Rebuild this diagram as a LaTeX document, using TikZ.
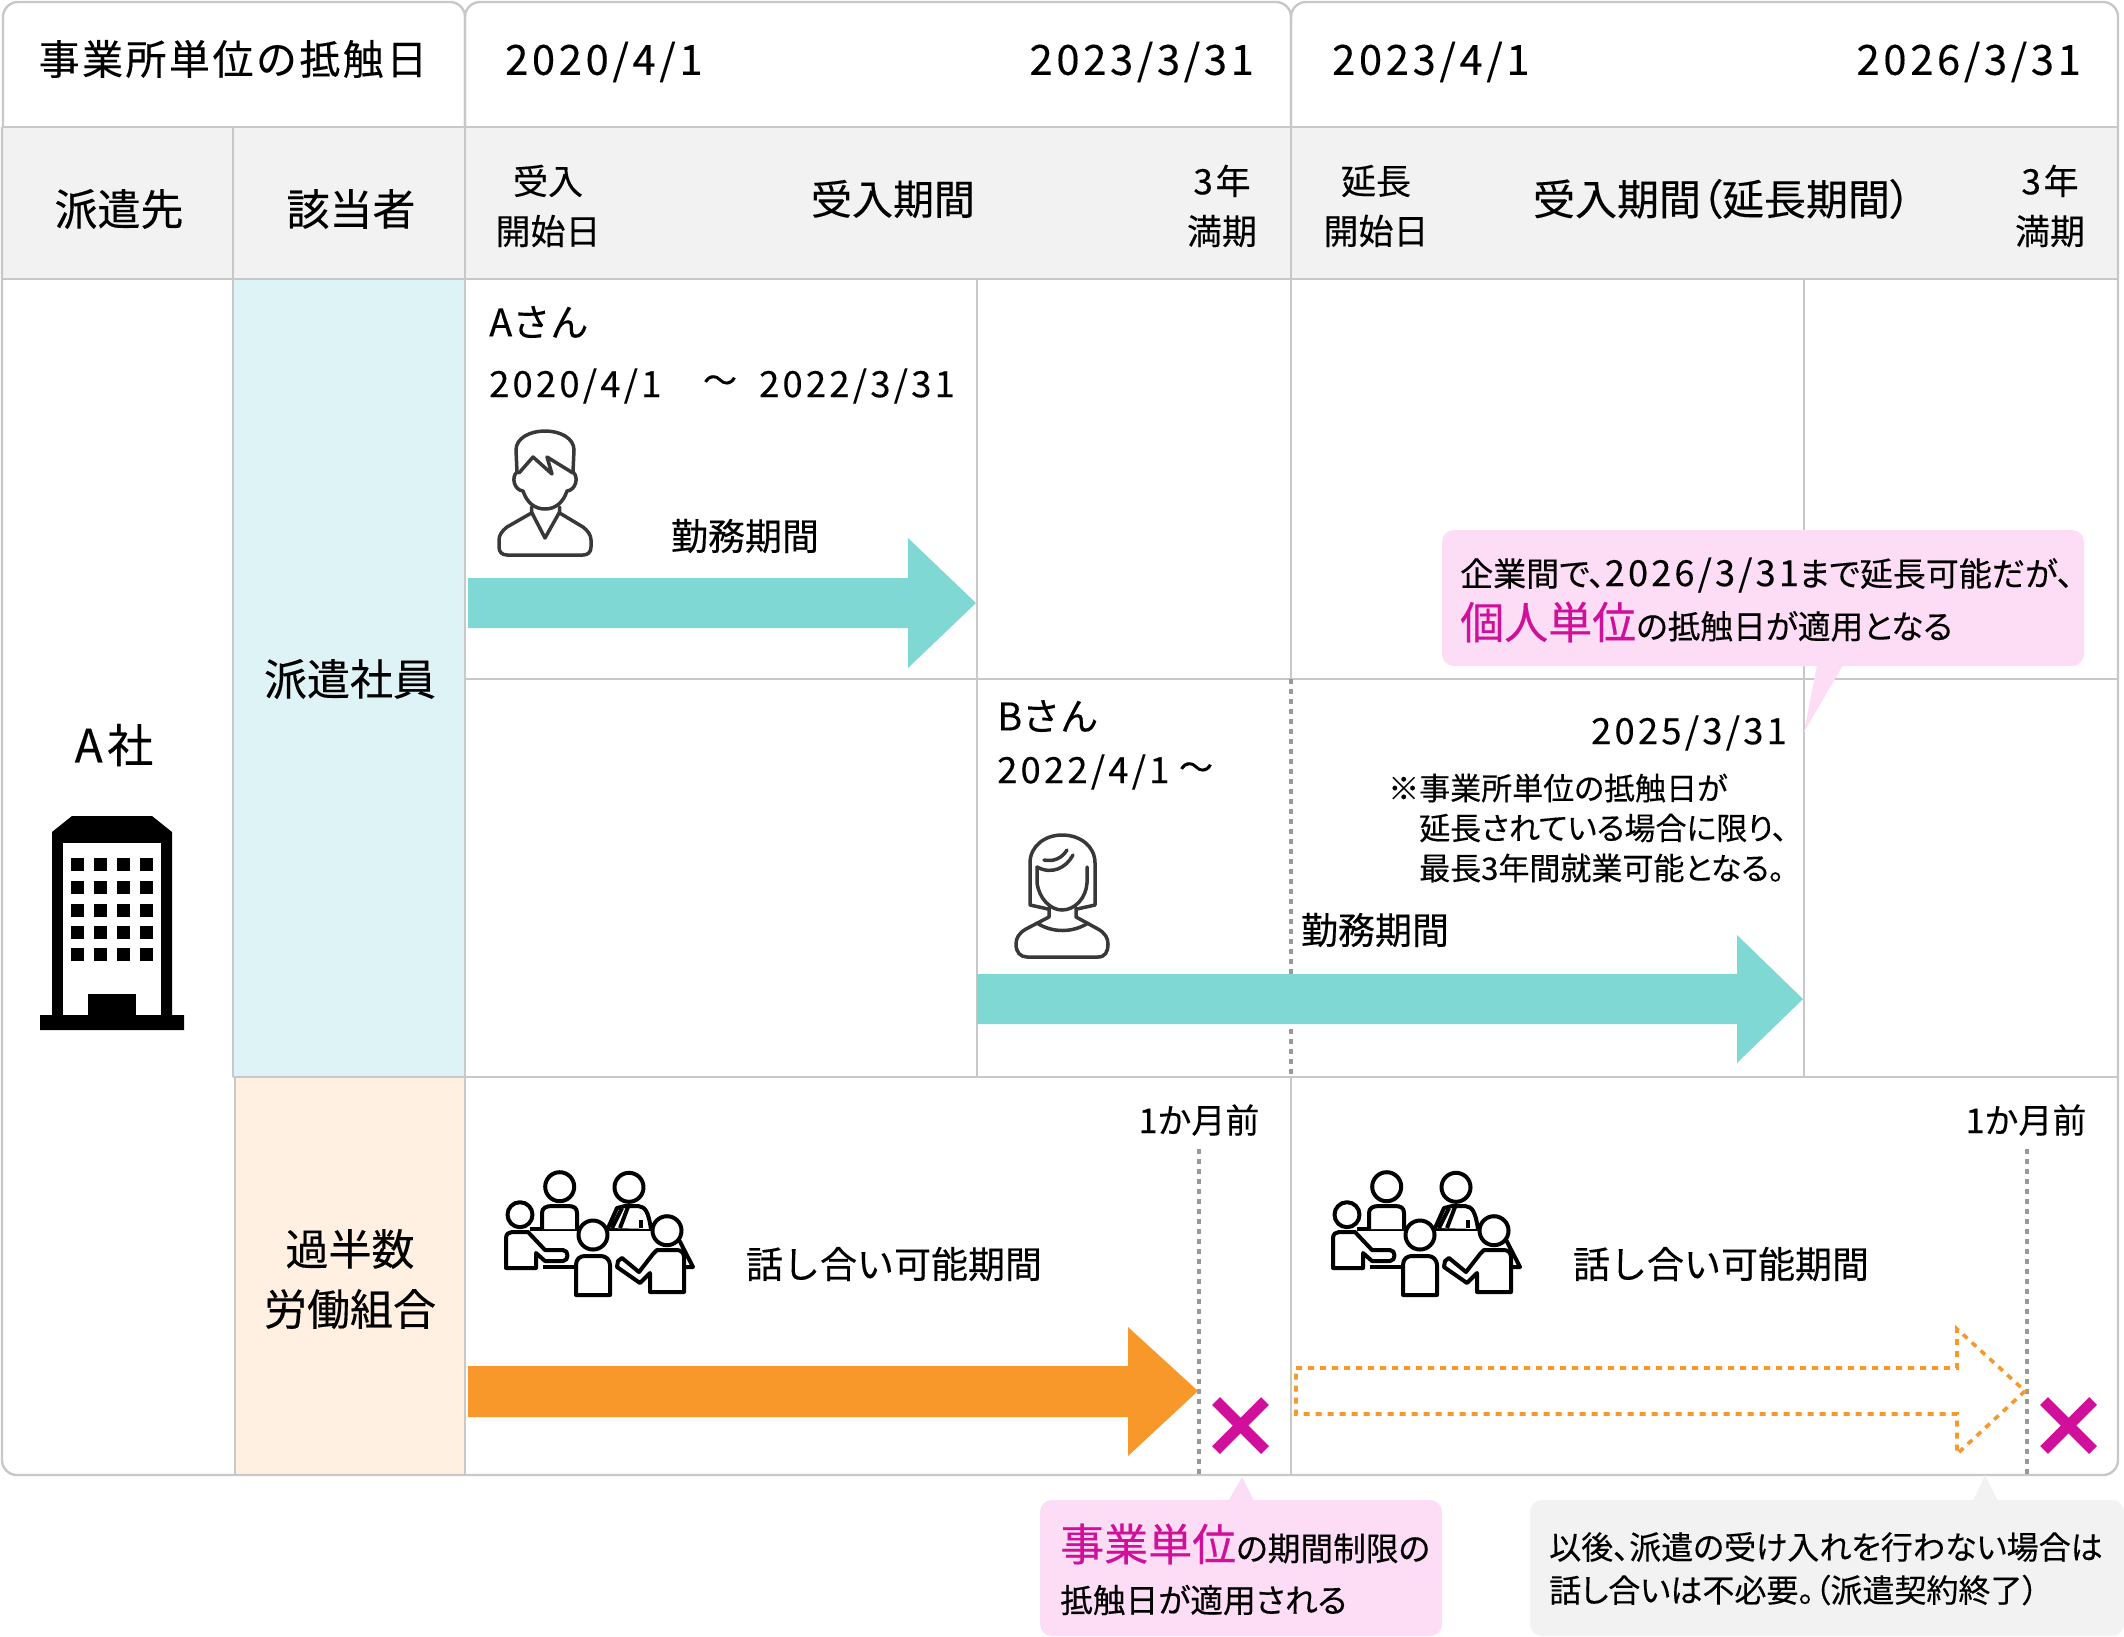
\documentclass[tikz,border=0pt]{standalone}
\usepackage{fontspec}
\setmainfont[FakeBold=0.3]{Noto Sans CJK JP}
\newfontfamily\dateface[LetterSpace=9,FakeBold=0.3]{Noto Sans CJK JP}
\newfontfamily\headface[LetterSpace=6,FakeBold=0.3]{Noto Sans CJK JP}
\newfontfamily\paltface[RawFeature={+palt},FakeBold=0.3]{Noto Sans CJK JP}
\definecolor{grid_line}{HTML}{C8C8C8}
\definecolor{head_gray}{HTML}{F2F2F2}
\definecolor{staff_blue}{HTML}{DEF3F6}
\definecolor{union_peach}{HTML}{FFF0E1}
\definecolor{work_teal}{HTML}{7FD8D4}
\definecolor{talk_orange}{HTML}{F9982A}
\definecolor{note_pink}{HTML}{FDDCF5}
\definecolor{mark_magenta}{HTML}{D0109A}
\definecolor{icon_gray}{HTML}{383838}
\tikzset{
  txt/.style={inner sep=0pt,font=\fontsize{#1}{#1}\selectfont},
  txt/.default=36,
  date_label/.style={inner sep=0pt,font=\dateface\fontsize{#1}{#1}\selectfont},
  two_line/.style={inner sep=0pt,align=center,font=\fontsize{35}{50}\selectfont},
  note_line/.style={inner sep=0pt,anchor=west,font=\paltface\fontsize{#1}{#1}\selectfont},
  grid_rule/.style={draw=grid_line,line width=2.4pt},
  limit_rule/.style={draw=gray!80,line width=3.4pt,dash pattern=on 5pt off 5pt},
  cross_mark/.style={draw=mark_magenta,line width=11pt},
  man_line/.style={draw=icon_gray,line width=3.5pt,line join=round,line cap=round},
  group_line/.style={draw=black,fill=white,line width=4pt,line join=round},
  meeting_icon/.pic={
    \draw[group_line,fill=none] (530,1229) -- (652,1229);
    \draw[group_line,fill=none] (675,1232) -- (693,1267) -- (680,1267);
    \draw[group_line,fill=none] (543,1267) -- (578,1267);
    \draw[group_line] (542,1229) -- (542,1213) .. controls (542,1208) and (546,1206) .. (552,1206) -- (568,1206) .. controls (574,1206) and (577,1208) .. (577,1213) -- (577,1229);
    \draw[group_line] (559.7,1186.7) circle (14.5);
    \draw[group_line] (608,1228) -- (617,1208) -- (625,1206) -- (638,1206) .. controls (645,1207) and (648,1210) .. (651,1229);
    \draw[group_line,fill=none] (612,1228) -- (622,1208);
    \draw[group_line,fill=none] (620,1228) -- (628,1207);
    \draw[group_line,fill=none] (641,1220) -- (641,1228);
    \draw[group_line] (629,1187.3) circle (14.5);
    \draw[group_line] (506,1268) -- (506,1238) .. controls (506,1234) and (509,1232) .. (512,1232) -- (528,1232) -- (545,1250) -- (563,1250) .. controls (569,1250) and (569,1261) .. (563,1261) -- (545,1261) -- (536,1253) -- (536,1268) -- cycle;
    \draw[group_line] (520,1214.7) circle (12.5);
    \draw[group_line] (576,1295) -- (576,1265) .. controls (576,1259) and (580,1256) .. (585,1256) -- (601,1256) .. controls (606,1256) and (610,1260) .. (610,1265) -- (610,1295) -- cycle;
    \draw[group_line] (593,1235) circle (14.5);
    \draw[group_line] (618,1261) -- (622,1258) -- (639,1272) -- (653,1254) -- (657,1250) -- (677,1250) .. controls (681,1250) and (684,1253) .. (684,1257) -- (684,1292) -- (650,1292) -- (650,1273) -- (640,1283) -- (617,1267) -- cycle;
    \draw[group_line] (667,1230.7) circle (14.5);
  }
}

\begin{document}
\begin{tikzpicture}[x=1pt,y=-1pt]
    \useasboundingbox (0,0) rectangle (2124,1636);

    % cell fills
    \fill[head_gray] (2,127) rectangle (2118,279);
    \fill[staff_blue] (233,279) rectangle (465,1077);
    \fill[union_peach] (235,1077) rectangle (465,1475);

    % table rules
    \draw[grid_rule,rounded corners=15pt] (3,127) -- (3,2) -- (465,2) -- (465,127);
    \draw[grid_rule,rounded corners=15pt] (465,127) -- (465,2) -- (1291,2) -- (1291,127);
    \draw[grid_rule,rounded corners=15pt] (1291,127) -- (1291,2) -- (2118,2) -- (2118,127);
    \draw[grid_rule] (3,127) -- (2118,127);
    \draw[grid_rule] (2,279) -- (2118,279);
    \draw[grid_rule] (465,679) -- (2118,679);
    \draw[grid_rule] (233,1077) -- (2118,1077);
    \draw[grid_rule,rounded corners=15pt] (2,127) -- (2,1475) -- (2118,1475) -- (2118,127);
    \draw[grid_rule] (233,127) -- (233,1077);
    \draw[grid_rule] (235,1077) -- (235,1475);
    \draw[grid_rule] (465,127) -- (465,1475);
    \draw[grid_rule] (1291,127) -- (1291,679);
    \draw[grid_rule] (1291,1077) -- (1291,1475);
    \draw[grid_rule] (977,279) -- (977,1077);
    \draw[grid_rule] (1804,279) -- (1804,1077);

    % limits
    \draw[limit_rule] (1291,679) -- (1291,1077);
    \draw[limit_rule] (1199,1149) -- (1199,1478);
    \draw[limit_rule] (2027,1149) -- (2027,1478);

    % header row
    \node[inner sep=0pt,font=\headface\fontsize{41}{41}\selectfont] (office_date) at (233,59) {事業所単位の抵触日};
    \node[date_label=41.6,anchor=west] (date_a) at (505,62) {2020/4/1};
    \node[date_label=41.6,anchor=east] (date_b) at (1254,62) {2023/3/31};
    \node[date_label=41.6,anchor=west] (date_c) at (1332,62) {2023/4/1};
    \node[date_label=41.6,anchor=east] (date_d) at (2081,62) {2026/3/31};

    \node[txt=43] (client_head) at (119,209) {派遣先};
    \node[txt=43] (person_head) at (351,209) {該当者};
    \node[two_line] (start_a) at (548,206) {受入\\開始日};
    \node[txt=41] (period_a) at (893,199) {受入期間};
    \node[two_line] (end_a) at (1222,206) {3\hspace{.08em}年\\満期};
    \node[two_line] (start_b) at (1376,206) {延長\\開始日};
    \node[inner sep=0pt,font=\paltface\fontsize{42}{42}\selectfont] (period_b) at (1722,199) {受入期間（延長期間）};
    \node[two_line] (end_b) at (2050,206) {3\hspace{.08em}年\\満期};

    % left columns
    \node[txt=46] (company) at (114,745) {A\hspace{.1em}社};
    \fill[black] (40,1030) -- (40,1015) -- (52,1015) -- (52,832) -- (72,816) -- (152,816) -- (172,832) -- (172,1015) -- (184,1015) -- (184,1030) -- cycle;
    \fill[white] (63,843) rectangle (161,1015);
    \fill[black] (88,994) rectangle (136,1015);
    \foreach \wy in {858,881,904,926,948}
      \foreach \wx in {71,94,117,140}
        \fill[black] (\wx,\wy) rectangle ++(13,13);
    \node[txt=43] (staff) at (350,679) {派遣社員};
    \node[inner sep=0pt,align=center,font=\fontsize{43}{60}\selectfont] (union) at (350,1279) {過半数\\労働組合};

    % person A
    \node[txt=38,anchor=west] (name_a) at (489,322) {Aさん};
    \node[date_label=36.3,anchor=west] (span_a1) at (489,386) {2020/4/1};
    \node[txt=34] (span_a2) at (720,384) {～};
    \node[date_label=36.3,anchor=east] (span_a3) at (955,386) {2022/3/31};
    \draw[man_line] (517,472) -- (516,450) .. controls (516,438) and (530,431) .. (545,431) .. controls (560,431) and (574,438) .. (574,450) -- (573,472);
    \draw[man_line] (519,473) -- (533,457) -- (552,474) -- (547,457) -- (573,473);
    \draw[man_line] (517,472) .. controls (511,477) and (514,490) .. (523,491) .. controls (527,503) and (535,509) .. (545,509) .. controls (555,509) and (563,503) .. (567,491) .. controls (576,490) and (579,477) .. (573,472);
    \draw[man_line] (531.5,507) -- (531.5,513) -- (507,527) .. controls (502,531) and (499,535) .. (499,540) -- (499,547) .. controls (499,552) and (502,555) .. (507,555) -- (583,555) .. controls (588,555) and (591,552) .. (591,547) -- (591,540) .. controls (591,535) and (588,531) .. (583,527) -- (559.6,513) -- (559.6,507);
    \draw[man_line] (531.5,512) -- (545,538) -- (559.6,512);
    \node[txt=37] (work_a) at (745,536) {勤務期間};
    \fill[work_teal] (468,578) -- (908,578) -- (908,538) -- (976,603) -- (908,668) -- (908,628) -- (468,628) -- cycle;

    % person B
    \node[txt=38,anchor=west] (name_b) at (997,716) {Bさん};
    \node[date_label=36.3,anchor=west] (span_b1) at (997,772) {2022/4/1};
    \node[txt=34] (span_b2) at (1196,771) {～};
    \draw[man_line] (1048,909) -- (1030,905) -- (1030,863) .. controls (1030,846) and (1045,835) .. (1062,835) .. controls (1080,835) and (1095,846) .. (1095,863) -- (1095,905) -- (1077,909);
    \draw[man_line] (1037,867) -- (1037,883) .. controls (1039,898) and (1050,910) .. (1062,910) .. controls (1075,910) and (1086,898) .. (1087,883) -- (1087,867);
    \draw[man_line] (1037,867) .. controls (1052,875) and (1066,868) .. (1073,855);
    \draw[man_line] (1044,860) .. controls (1054,862) and (1062,858) .. (1067,850);
    \draw[man_line] (1049,908) -- (1049,917) -- (1026,929) .. controls (1019,933) and (1016,938) .. (1016,944) .. controls (1016,952) and (1020,957) .. (1027,957) -- (1098,957) .. controls (1105,957) and (1108,952) .. (1108,944) .. controls (1108,938) and (1105,933) .. (1098,929) -- (1076,917) -- (1076,908);
    \draw[man_line] (1037,923) .. controls (1052,933) and (1073,933) .. (1088,923);
    \node[date_label=36.3,anchor=east] (span_b3) at (1787,733) {2025/3/31};
    \node[note_line=31] (rule_a) at (1388,788) {※事業所単位の抵触日が};
    \node[note_line=31] (rule_b) at (1419,828) {延長されている場合に限り、};
    \node[note_line=31] (rule_c) at (1419,868) {最長3年間就業可能となる。};
    \node[txt=37] (work_b) at (1375,930) {勤務期間};
    \fill[work_teal] (977,974) -- (1737,974) -- (1737,935) -- (1803,999) -- (1737,1063) -- (1737,1024) -- (977,1024) -- cycle;

    % union row
    \node[txt=34] (month_a) at (1199,1120) {1か月前};
    \node[txt=34] (month_b) at (2026,1120) {1か月前};
    \pic at (0,0) {meeting_icon};
    \pic at (827,0) {meeting_icon};
    \node[txt=37] (talk_a) at (894,1264) {話し合い可能期間};
    \node[txt=37] (talk_b) at (1721,1264) {話し合い可能期間};
    \fill[talk_orange] (468,1366) -- (1128,1366) -- (1128,1327) -- (1198,1391) -- (1128,1456) -- (1128,1417) -- (468,1417) -- cycle;
    \draw[talk_orange,line width=3.6pt,dash pattern=on 6pt off 6pt] (1296,1368) -- (1957,1368) -- (1957,1329) -- (2025,1391) -- (1957,1454) -- (1957,1414) -- (1296,1414) -- cycle;
    \draw[cross_mark] (1216,1401) -- (1265,1450);
    \draw[cross_mark] (1265,1401) -- (1216,1450);
    \draw[cross_mark] (2044,1401) -- (2093,1450);
    \draw[cross_mark] (2093,1401) -- (2044,1450);

    % callouts
    \fill[note_pink] (1818,660) -- (1846,660) -- (1804,732) -- cycle;
    \fill[note_pink,rounded corners=12pt] (1442,530) rectangle (2084,666);
    \node[note_line=33] (note_top_a) at (1460,575) {企業間で、{\dateface\fontsize{36}{36}\selectfont 2026/3/31}まで延長可能だが、};
    \node[note_line=32.7] (note_top_b) at (1460,622) {\textcolor{mark_magenta}{\fontsize{44}{44}\selectfont 個人単位}の抵触日が適用となる};

    \fill[note_pink] (1226,1505) -- (1256,1505) -- (1242,1477) -- cycle;
    \fill[note_pink,rounded corners=12pt] (1040,1500) rectangle (1442,1636);
    \node[note_line=32.7] (note_mid_a) at (1060,1544) {\textcolor{mark_magenta}{\fontsize{44}{44}\selectfont 事業単位}の期間制限の};
    \node[note_line=32.7] (note_mid_b) at (1060,1600) {抵触日が適用される};

    \fill[head_gray] (1971,1505) -- (2000,1505) -- (1985,1475) -- cycle;
    \fill[head_gray,rounded corners=12pt] (1530,1500) rectangle (2124,1636);
    \node[note_line=32] (note_end_a) at (1549,1547) {以後、派遣の受け入れを行わない場合は};
    \node[note_line=32] (note_end_b) at (1549,1590) {話し合いは不必要。（派遣契約終了）};
\end{tikzpicture}
\end{document}
